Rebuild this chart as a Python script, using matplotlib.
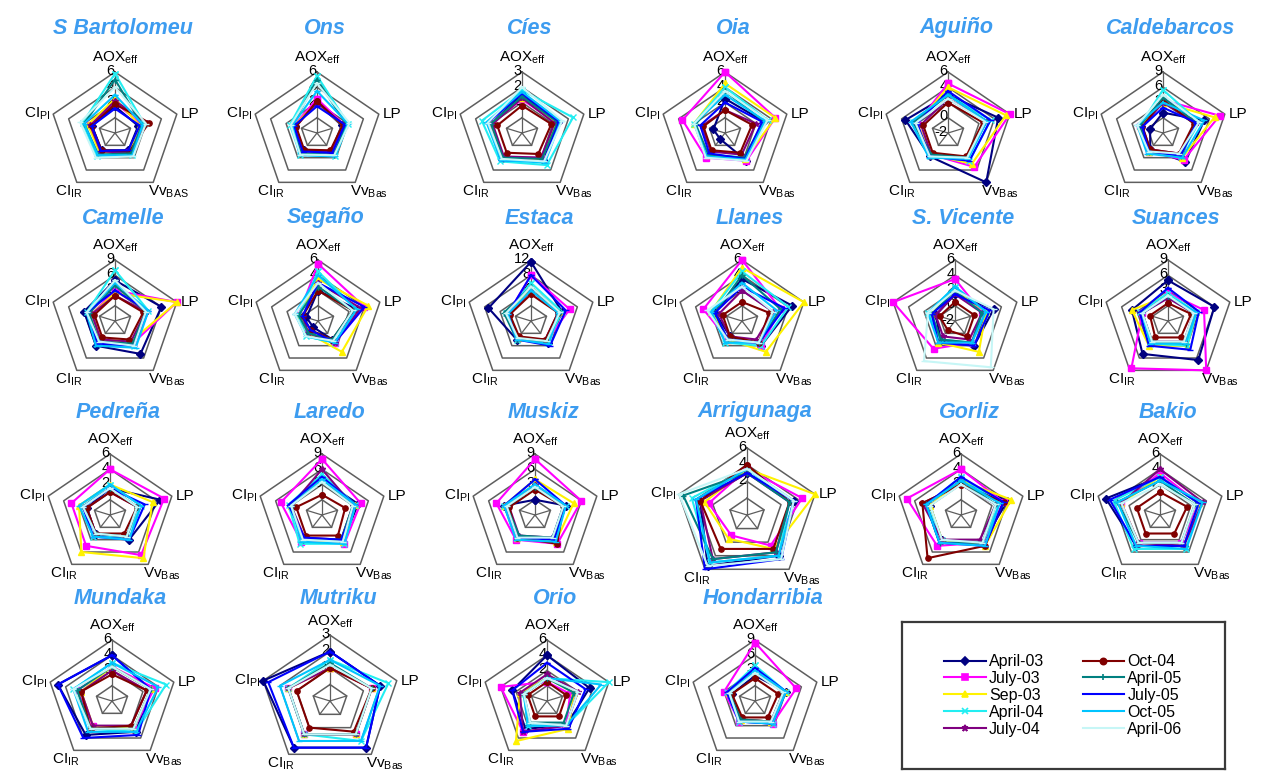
import numpy as np
import matplotlib
matplotlib.use("Agg")
import matplotlib.pyplot as plt
from matplotlib.lines import Line2D

plt.rcParams['font.family'] = ['Liberation Sans', 'DejaVu Sans']
plt.rcParams['mathtext.fontset'] = 'custom'
plt.rcParams['mathtext.rm'] = 'Liberation Sans'
plt.rcParams['mathtext.it'] = 'Liberation Sans:italic'

W, H = 1261, 778

campaigns = ["April-03", "July-03", "Sep-03", "April-04", "July-04",
             "Oct-04", "April-05", "July-05", "Oct-05", "April-06"]
colors = ["#000080", "#FF00FF", "#FFF200", "#22EEF2", "#800080",
          "#800000", "#008080", "#0000FF", "#00C4FF", "#C6F6F6"]
markers = ["D", "s", "^", "x", "*", "o", "+", "_", "_", "_"]

# rows: April-03 ... April-06 ; columns: AOXeff, LP, VvBas, CI_IR, CI_PI
s_bartolomeu = [[1.5, 1.0, 0.8, 0.8, 1.0], [2.0, 1.5, 1.0, 1.0, 1.2], [2.5, 1.2, 1.0, 1.2, 1.5],
                [5.8, 1.8, 1.5, 1.8, 2.2], [2.2, 2.2, 1.2, 1.0, 1.2], [1.8, 2.4, 1.0, 0.8, 1.0],
                [5.0, 1.5, 1.3, 1.5, 2.0], [1.2, 1.2, 0.8, 0.9, 1.0], [3.0, 1.6, 1.6, 1.6, 2.0],
                [4.0, 2.0, 1.8, 2.0, 2.5]]
ons = [[2.0, 1.2, 1.0, 0.8, 0.8], [2.5, 1.5, 1.2, 1.0, 1.0], [2.0, 1.3, 1.0, 1.0, 1.0],
       [5.5, 2.0, 1.8, 1.5, 1.5], [2.0, 1.5, 1.0, 0.8, 0.8], [2.2, 1.3, 0.8, 0.7, 0.7],
       [5.0, 1.8, 1.5, 1.3, 1.2], [1.5, 1.6, 1.2, 1.0, 1.0], [3.5, 2.0, 1.8, 1.6, 1.2],
       [4.5, 2.2, 1.6, 1.5, 1.4]]
cies = [[1.5, 1.3, 1.2, 1.0, 1.0], [1.2, 1.2, 1.0, 1.0, 1.0], [1.3, 1.2, 1.1, 1.0, 1.0],
        [1.8, 2.3, 1.6, 1.3, 1.6], [1.3, 1.1, 1.0, 0.9, 0.9], [0.8, 0.9, 0.7, 0.6, 0.6],
        [1.4, 1.3, 1.1, 1.0, 1.0], [1.6, 1.4, 1.3, 1.2, 1.2], [1.7, 1.5, 1.4, 1.2, 1.3],
        [2.0, 1.6, 1.3, 1.1, 1.2]]
oia = [[2.5, 3.0, 2.5, -1.0, -0.5], [6.0, 4.5, 2.5, 2.0, 3.5], [4.5, 4.5, 2.2, 1.5, 2.0],
       [4.0, 3.5, 2.0, 1.5, 2.0], [1.0, 2.0, 1.5, 1.0, 1.0], [1.0, 1.5, 1.2, 0.8, 0.8],
       [3.5, 3.0, 2.0, 1.5, 1.8], [2.0, 2.8, 2.2, 1.3, 1.2], [3.0, 3.2, 2.3, 1.8, 2.0],
       [3.5, 3.5, 2.5, 2.0, 2.0]]
aguino = [[3.0, 4.5, 6.0, 1.8, 3.5], [4.5, 6.0, 3.5, 1.5, 2.0], [4.0, 5.5, 3.0, 1.5, 2.0],
          [3.0, 3.5, 2.5, 1.8, 2.5], [2.5, 3.0, 2.0, 1.5, 1.5], [2.0, 2.5, 1.8, 1.2, 1.2],
          [3.0, 3.0, 2.0, 1.5, 2.5], [3.5, 3.5, 2.5, 1.8, 2.0], [3.0, 3.0, 2.2, 2.0, 2.8],
          [2.5, 2.8, 2.0, 1.8, 2.2]]
caldebarcos = [[1.0, 5.0, 4.0, 1.0, -0.5], [3.5, 8.0, 3.5, 1.5, 1.5], [3.0, 7.0, 3.0, 1.5, 1.5],
               [5.5, 4.0, 2.5, 1.5, 1.5], [3.0, 3.5, 2.0, 1.0, 1.0], [3.5, 3.0, 2.0, 1.0, 1.0],
               [4.0, 3.5, 2.5, 1.5, 1.5], [2.0, 3.5, 2.5, 1.5, 1.0], [3.0, 5.0, 3.0, 2.0, 2.0],
               [4.5, 4.0, 2.0, 1.5, 2.0]]
camelle = [[5.0, 6.0, 5.0, 3.0, 3.0], [3.0, 9.0, 2.5, 1.5, 1.5], [2.5, 9.0, 2.0, 1.5, 1.5],
           [7.0, 3.5, 3.0, 2.5, 2.5], [2.0, 3.0, 2.0, 1.5, 1.5], [2.0, 2.5, 1.5, 1.0, 1.0],
           [4.0, 3.0, 2.5, 2.0, 2.0], [3.0, 3.5, 3.0, 2.5, 2.5], [4.5, 3.5, 3.5, 3.0, 2.5],
           [5.0, 3.0, 3.0, 2.0, 2.5]]
segano = [[2.0, 3.0, 1.0, -1.0, -0.5], [5.5, 4.0, 1.5, 0.0, 0.5], [3.5, 4.5, 3.0, 0.0, 0.5],
          [4.5, 3.0, 1.5, 0.5, 0.5], [3.0, 3.5, 1.5, 0.0, 0.0], [2.0, 2.5, 1.0, -0.5, 0.0],
          [2.5, 2.5, 1.0, 0.0, 0.5], [3.0, 4.0, 1.5, -0.5, 0.0], [4.0, 3.0, 1.5, 0.5, 1.0],
          [3.0, 2.5, 1.2, 0.5, 1.0]]
estaca = [[11.5, 4.0, 3.0, 2.0, 7.0], [8.0, 6.0, 2.5, 1.5, 2.0], [5.0, 3.5, 2.5, 1.5, 2.0],
          [6.0, 4.0, 3.0, 2.0, 2.5], [4.0, 3.0, 2.0, 1.5, 1.5], [3.0, 3.0, 2.0, 1.0, 1.5],
          [5.0, 3.5, 2.5, 2.0, 3.0], [8.0, 5.0, 4.0, 2.0, 2.0], [4.0, 3.0, 3.5, 2.0, 2.0],
          [5.0, 3.5, 2.5, 1.5, 2.5]]
llanes = [[3.5, 4.5, 2.0, 0.5, 1.5], [6.0, 3.0, 2.0, 1.0, 3.0], [5.0, 6.0, 3.0, 1.0, 2.0],
          [4.5, 4.0, 2.0, 1.5, 2.0], [2.0, 2.0, 1.0, 0.5, 1.0], [0.5, 1.5, 1.5, 0.5, 0.5],
          [4.0, 3.0, 1.5, 1.0, 1.5], [2.5, 3.5, 1.5, 1.0, 1.5], [3.0, 2.5, 1.5, 1.5, 2.0],
          [2.5, 2.0, 1.5, 1.0, 2.5]]
s_vicente = [[1.5, 3.0, 2.0, 1.0, 0.5], [3.5, 1.5, 1.5, 2.5, 6.0], [2.0, 2.0, 3.0, 1.5, 1.0],
             [2.5, 2.0, 1.5, 1.0, 1.5], [1.5, 1.5, 1.0, 0.5, 0.5], [0.5, 0.5, 0.5, -0.5, 0.0],
             [2.0, 1.5, 1.5, 1.0, 1.0], [1.5, 2.5, 2.0, 1.5, 1.0], [2.5, 2.0, 1.5, 1.5, 1.5],
             [2.0, 3.0, 5.5, 4.5, 1.5]]
suances = [[5.0, 6.0, 6.5, 5.0, 4.0], [2.5, 4.0, 9.0, 8.5, 2.0], [2.0, 2.5, 3.0, 3.0, 4.0],
           [2.5, 2.5, 3.0, 2.5, 2.5], [1.5, 2.0, 2.0, 2.0, 2.0], [0.5, 1.5, 1.0, 1.0, 0.5],
           [2.0, 2.0, 2.5, 2.0, 2.0], [3.5, 3.0, 4.0, 3.0, 2.5], [2.0, 2.5, 2.5, 2.5, 2.0],
           [2.0, 2.0, 2.0, 2.0, 2.0]]
pedrena = [[1.5, 4.5, 2.0, 1.0, 1.0], [4.0, 5.0, 4.5, 3.0, 3.0], [2.0, 3.5, 5.0, 4.0, 2.0],
           [2.0, 2.0, 1.5, 1.5, 1.5], [1.0, 1.5, 1.5, 1.0, 1.0], [1.0, 1.5, 1.0, 1.0, 1.0],
           [1.5, 1.5, 1.5, 1.0, 1.5], [1.5, 2.5, 2.0, 1.5, 1.5], [2.0, 2.0, 2.0, 1.5, 2.0],
           [1.5, 1.5, 1.5, 1.0, 1.5]]
laredo = [[4.0, 4.0, 3.5, 3.0, 3.0], [8.0, 4.5, 4.0, 3.5, 5.0], [4.0, 3.5, 3.5, 3.0, 3.0],
          [5.0, 3.5, 4.0, 4.0, 3.5], [6.0, 3.0, 3.0, 2.5, 3.0], [1.0, 1.5, 2.0, 2.0, 2.0],
          [4.0, 3.0, 3.0, 3.0, 3.0], [4.5, 3.5, 3.0, 2.5, 3.5], [4.0, 3.5, 4.0, 3.5, 3.0],
          [3.5, 3.0, 3.5, 3.0, 3.0]]
muskiz = [[0.0, 3.0, 2.5, 2.5, 3.0], [8.0, 6.0, 4.0, 3.0, 4.5], [4.0, 4.5, 3.5, 2.5, 3.0],
          [3.0, 3.0, 3.0, 2.5, 3.0], [3.0, 2.5, 2.5, 2.0, 2.0], [2.0, 2.5, 4.0, 2.5, 2.0],
          [2.5, 2.5, 2.5, 2.0, 2.5], [4.0, 3.0, 3.0, 2.5, 3.0], [3.0, 3.0, 3.5, 3.0, 3.0],
          [2.5, 2.5, 2.5, 2.5, 2.5]]
arrigunaga = [[3.0, 3.5, 4.0, 5.5, 3.5], [3.5, 4.5, 2.5, 1.0, 2.5], [3.5, 6.0, 3.0, 1.5, 3.0],
              [3.5, 3.0, 4.0, 5.0, 4.5], [3.0, 3.0, 3.5, 4.5, 3.5], [4.0, 3.0, 3.0, 3.0, 3.5],
              [3.0, 3.0, 3.5, 4.5, 5.5], [3.0, 3.5, 4.5, 6.0, 4.0], [3.5, 3.5, 4.0, 5.0, 4.0],
              [3.5, 3.5, 4.5, 5.5, 6.0]]
gorliz = [[2.5, 4.0, 2.5, 2.0, 2.0], [4.0, 3.5, 2.5, 3.0, 5.0], [2.5, 4.5, 3.0, 2.0, 2.0],
          [3.0, 3.0, 2.5, 2.0, 2.5], [2.0, 2.5, 2.0, 2.0, 3.0], [2.0, 3.5, 3.0, 5.0, 3.0],
          [2.5, 2.5, 2.5, 2.5, 2.5], [3.0, 3.5, 3.0, 2.5, 2.5], [2.5, 3.0, 3.0, 2.5, 2.5],
          [2.0, 2.5, 2.5, 2.0, 2.0]]
bakio = [[3.0, 3.0, 3.0, 3.0, 5.0], [3.5, 3.0, 2.5, 2.5, 3.0], [3.0, 3.0, 3.0, 2.5, 3.0],
         [3.0, 3.0, 3.5, 3.5, 4.0], [4.0, 3.5, 3.0, 2.5, 3.0], [1.0, 1.5, 1.0, 1.0, 1.0],
         [2.5, 2.5, 2.5, 2.5, 3.5], [3.0, 3.0, 3.0, 3.0, 4.5], [2.5, 3.5, 3.5, 3.0, 3.5],
         [2.0, 2.5, 2.5, 2.5, 3.0]]
mundaka = [[4.0, 3.0, 3.0, 3.5, 5.0], [2.5, 3.5, 2.5, 2.0, 2.5], [2.5, 3.0, 2.5, 2.0, 2.0],
           [3.0, 5.0, 3.0, 2.5, 3.0], [2.0, 2.5, 2.0, 2.0, 2.0], [1.5, 2.5, 2.0, 2.5, 2.0],
           [2.5, 3.0, 2.5, 2.5, 2.5], [4.0, 3.0, 3.5, 4.0, 5.0], [3.0, 4.0, 3.0, 3.0, 3.0],
           [2.5, 3.0, 2.5, 2.5, 3.0]]
mutriku = [[2.0, 2.0, 2.5, 2.5, 3.0], [1.0, 1.5, 1.5, 1.5, 1.5], [1.0, 1.5, 1.5, 1.5, 1.5],
           [1.5, 2.5, 2.0, 1.5, 1.5], [1.0, 1.5, 1.5, 1.5, 1.5], [1.0, 1.5, 1.3, 1.0, 1.0],
           [1.3, 1.5, 1.5, 1.5, 1.5], [2.0, 2.0, 2.5, 2.5, 2.7], [1.5, 2.0, 2.0, 2.0, 2.0],
           [1.2, 1.5, 1.5, 1.5, 1.5]]
orio = [[4.0, 3.5, 2.0, 2.5, 2.5], [0.5, 1.0, 2.0, 3.0, 4.0], [1.0, 1.5, 2.5, 4.5, 1.5],
        [1.0, 6.0, 2.0, 2.0, 1.0], [1.5, 2.0, 2.0, 3.0, 1.5], [0.5, 0.5, 0.5, 0.5, 0.5],
        [1.0, 1.5, 1.5, 1.5, 1.0], [3.0, 3.0, 2.5, 3.0, 2.5], [1.0, 5.0, 2.0, 2.0, 1.0],
        [1.0, 2.0, 2.0, 1.5, 1.0]]
hondarribia = [[2.0, 3.0, 2.0, 1.5, 1.5], [8.5, 5.0, 2.5, 2.0, 3.0], [3.0, 3.0, 2.0, 1.5, 2.0],
               [4.0, 3.0, 2.5, 2.0, 2.5], [3.0, 2.5, 2.0, 1.5, 2.0], [1.5, 1.5, 1.0, 1.0, 1.5],
               [3.0, 2.5, 2.0, 1.5, 2.0], [3.5, 3.0, 2.5, 2.0, 2.5], [3.0, 3.0, 2.5, 2.0, 2.0],
               [2.5, 2.5, 2.0, 2.0, 2.0]]

# (title, values, (axis min, axis max, step))
sites = [
    ("S Bartolomeu", s_bartolomeu, (-2, 6, 2)), ("Ons", ons, (-2, 6, 2)),
    ("Cíes", cies, (-1, 3, 1)), ("Oia", oia, (-2, 6, 2)),
    ("Aguiño", aguino, (-2, 6, 2)), ("Caldebarcos", caldebarcos, (-3, 9, 3)),
    ("Camelle", camelle, (-3, 9, 3)), ("Segaño", segano, (-2, 6, 2)),
    ("Estaca", estaca, (-4, 12, 4)), ("Llanes", llanes, (-2, 6, 2)),
    ("S. Vicente", s_vicente, (-2, 6, 2)), ("Suances", suances, (-3, 9, 3)),
    ("Pedreña", pedrena, (-2, 6, 2)), ("Laredo", laredo, (-3, 9, 3)),
    ("Muskiz", muskiz, (-3, 9, 3)), ("Arrigunaga", arrigunaga, (-2, 6, 2)),
    ("Gorliz", gorliz, (-2, 6, 2)), ("Bakio", bakio, (-2, 6, 2)),
    ("Mundaka", mundaka, (-2, 6, 2)), ("Mutriku", mutriku, (-1, 3, 1)),
    ("Orio", orio, (-2, 6, 2)), ("Hondarribia", hondarribia, (-3, 9, 3)),
]

# panel centres in pixels, per row
row_cx = [[115, 317, 522, 725, 948, 1163],
          [115, 318, 531, 742, 955, 1168],
          [110, 322, 535, 747, 961, 1160],
          [112, 330, 547, 755]]
row_cy = [133, 321, 515, 701]
row_title_y = [28, 218, 412, 599]
grow = {"Arrigunaga": 1.1, "Mutriku": 1.08}
all_ticks = {"Aguiño", "S. Vicente"}

axis_names = [r"AOX$_{\mathregular{eff}}$", "LP", r"Vv$_{\mathregular{Bas}}$",
              r"CI$_{\mathregular{IR}}$", r"CI$_{\mathregular{PI}}$"]
theta = np.deg2rad([0, 72, 144, 216, 288])
theta_c = np.append(theta, theta[0])
title_color = "#3D9CF0"
grid_color = "#5E5E5E"

fig = plt.figure(figsize=(W / 100, H / 100), dpi=100)


def draw_site(name, values, scale, cx, cy, ty):
    lo, hi, step = scale
    g = grow.get(name, 1.0)
    rx, ry = 65 * g, 61 * g
    ax = fig.add_axes([(cx - rx) / W, 1 - (cy + ry) / H, 2 * rx / W, 2 * ry / H],
                      projection="polar")
    ax.set_aspect("auto")
    ax.set_theta_offset(np.pi / 2)
    ax.set_theta_direction(-1)
    ax.set_ylim(lo, hi)
    ax.grid(False)
    ax.set_xticks([])
    ax.set_yticks([])
    ax.spines["polar"].set_visible(False)
    ax.patch.set_alpha(0)

    # pentagon rings and short spokes
    levels = np.arange(lo + step, hi + step / 2, step)
    for lvl in levels:
        ax.plot(theta_c, [lvl] * 6, color=grid_color, lw=1.1, zorder=1, clip_on=False)
    for t in theta:
        top = hi if t == 0 else lo + step
        ax.plot([t, t], [lo, top], color=grid_color, lw=0.9, zorder=1, clip_on=False)

    shown = np.arange(lo, hi + step / 2, step) if name in all_ticks else levels[-3:]
    for lvl in shown:
        ax.annotate(f"{lvl:g}", xy=(0, lvl), xytext=(-0.5, 1), textcoords="offset points",
                    ha="right", va="center", fontsize=10.5, zorder=1, annotation_clip=False)

    for vals, col, mk in zip(values, colors, markers):
        v = list(vals) + [vals[0]]
        ax.plot(theta_c, v, color=col, lw=1.5, marker=mk, ms=3.8, mew=1.0,
                zorder=2, clip_on=False)

    names = list(axis_names)
    if name == "S Bartolomeu":
        names[2] = r"Vv$_{\mathregular{BAS}}$"
    place = [((0, 4), "center", "bottom"), ((3, 0), "left", "center"),
             ((-4, -1), "left", "top"), ((4, -1), "right", "top"),
             ((-2, 0), "right", "center")]
    for t, lab, (off, ha, va) in zip(theta, names, place):
        ax.annotate(lab, xy=(t, hi), xytext=off, textcoords="offset points",
                    ha=ha, va=va, fontsize=11, annotation_clip=False)

    fig.text((cx + 8) / W, 1 - ty / H, name, ha="center", va="center",
             fontsize=15.5, fontstyle="italic", fontweight="bold", color=title_color)


k = 0
for r, xs in enumerate(row_cx):
    for cx in xs:
        name, values, scale = sites[k]
        draw_site(name, values, scale, cx, row_cy[r], row_title_y[r])
        k += 1

# legend box
lax = fig.add_axes([902 / W, 1 - 769 / H, (1225 - 902) / W, (769 - 622) / H])
lax.set_xticks([])
lax.set_yticks([])
for sp in lax.spines.values():
    sp.set_linewidth(1.6)
    sp.set_color("#3A3A3A")
handles = [Line2D([], [], color=c, marker=m, ms=4.5, mew=1.2, lw=1.5)
           for c, m in zip(colors, markers)]
lax.legend(handles, campaigns, ncol=2, loc="center", frameon=False, fontsize=11.5,
           handlelength=2.6, handletextpad=0.2, labelspacing=0.12, columnspacing=2.4)

fig.savefig("out.png", dpi=100)
